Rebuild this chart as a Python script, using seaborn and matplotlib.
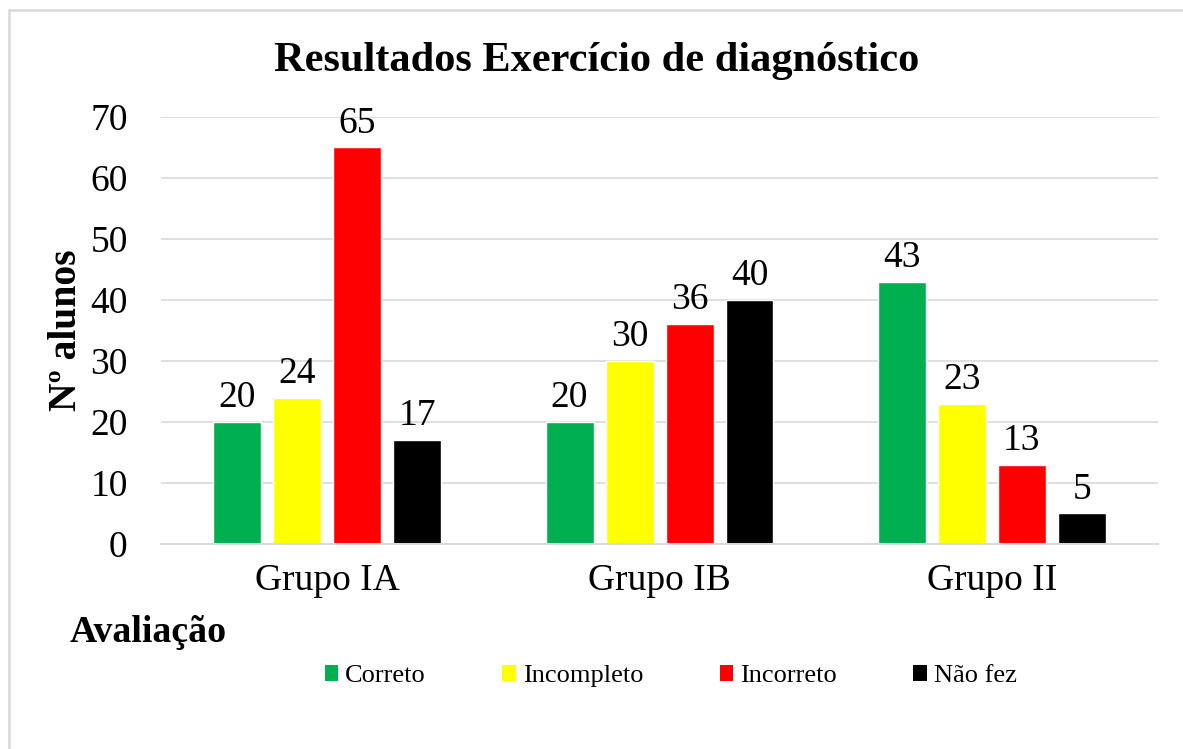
import matplotlib
matplotlib.use("Agg")
import matplotlib.pyplot as plt
import seaborn as sns
import pandas as pd
from matplotlib.patches import Patch
from matplotlib.lines import Line2D

groups = ["Grupo IA", "Grupo IB", "Grupo II"]
categories = ["Correto", "Incompleto", "Incorreto", "Não fez"]
correto = [20, 20, 43]
incompleto = [24, 30, 23]
incorreto = [65, 36, 13]
nao_fez = [17, 40, 5]
colors = ["#00B050", "#FFFF00", "#FF0000", "#000000"]

rows = []
for cat, vals in zip(categories, [correto, incompleto, incorreto, nao_fez]):
    for g, v in zip(groups, vals):
        rows.append({"Grupo": g, "Avaliação": cat, "Valor": v})
df = pd.DataFrame(rows)

sns.set_theme(style="white")
plt.rcParams["font.family"] = ["Liberation Serif", "DejaVu Serif"]
plt.rcParams["text.color"] = "black"
plt.rcParams["xtick.color"] = "black"
plt.rcParams["ytick.color"] = "black"
plt.rcParams["axes.labelcolor"] = "black"

fig = plt.figure(figsize=(11.83, 7.49), dpi=100)
ax = fig.add_axes([0.1361, 0.2737, 0.8428, 0.5701])

sns.barplot(data=df, x="Grupo", y="Valor", hue="Avaliação", order=groups,
            hue_order=categories, palette=colors, width=0.722, gap=0.2,
            saturation=1, ax=ax, legend=False, errorbar=None)

for c in ax.containers:
    ax.bar_label(c, labels=[f"{int(v)}" for v in c.datavalues], padding=5,
                 fontsize=27, color="black")

ax.set_ylim(0, 70)
ax.set_xlim(-0.5, 2.5)
ax.set_yticks(range(0, 71, 10))
ax.yaxis.grid(True, color="#D9D9D9", linewidth=1.2)
ax.set_axisbelow(True)
for s in ["top", "right", "left"]:
    ax.spines[s].set_visible(False)
ax.spines["bottom"].set_color("#D9D9D9")
ax.spines["bottom"].set_linewidth(1.5)
ax.tick_params(axis="y", length=0, pad=24, labelsize=27, labelcolor="black")
ax.tick_params(axis="x", which="major", length=0, pad=14, labelsize=27,
               labelcolor="black")
ax.set_xticks([-0.5, 0.5, 1.5, 2.5], minor=True)
ax.tick_params(axis="x", which="minor", length=8, width=1.5, color="#D9D9D9")
ax.set_xlabel("")
ax.set_ylabel("")

fig.text(0.504, 0.919, "Resultados Exercício de diagnóstico", ha="center",
         va="center", fontsize=30.5, fontweight="bold", color="black")
fig.text(0.0566, 0.559, "Nº alunos", rotation=90, ha="center", va="center",
         fontsize=28.5, fontweight="bold", color="black")
fig.text(0.059, 0.155, "Avaliação", ha="left", va="center", fontsize=27.3,
         fontweight="bold", color="black")

handles = [Patch(facecolor=c, edgecolor="none") for c in colors]
leg = fig.legend(handles, categories, loc="center",
                 bbox_to_anchor=(0.567, 0.0975), ncol=4, frameon=False,
                 fontsize=19, handlelength=0.5, handleheight=0.6,
                 handletextpad=0.27, columnspacing=2.9)
for t in leg.get_texts():
    t.set_color("black")

# outer chart border (only left and top edges visible in the reference)
bx, by = 8.5 / 1183, 1 - 10 / 749
fig.lines.append(Line2D([bx, bx], [0, by], transform=fig.transFigure,
                        color="#D9D9D9", linewidth=1.8))
fig.lines.append(Line2D([bx, 1], [by, by], transform=fig.transFigure,
                        color="#D9D9D9", linewidth=1.8))

fig.savefig("out.png", dpi=100)
